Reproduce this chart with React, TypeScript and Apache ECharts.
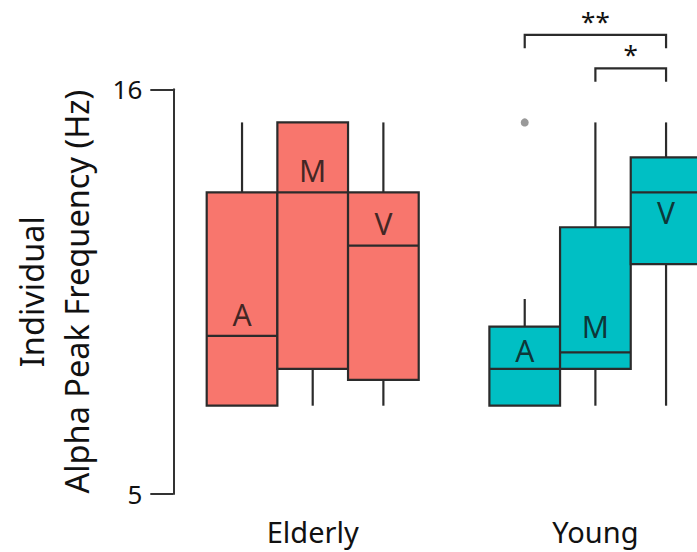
import React, { useEffect, useRef } from 'react';
import * as echarts from 'echarts';

// ---- data ----
const categories = ['Elderly-A', 'Elderly-M', 'Elderly-V', 'gap', 'Young-A', 'Young-M', 'Young-V'];
const groupLabels = ['', 'Elderly', '', '', '', 'Young', ''];
const conditions = ['A', 'M', 'V'];
// [min, Q1, median, Q3, max]
const elderlyStats = [
  [7.4, 7.4, 9.3, 13.2, 15.1],
  [7.4, 8.4, 13.2, 15.1, 15.1],
  [7.4, 8.1, 11.75, 13.2, 15.1],
];
const youngStats = [
  [7.4, 7.4, 8.4, 9.55, 10.3],
  [7.4, 8.4, 8.85, 12.25, 15.1],
  [7.4, 11.25, 13.2, 14.15, 15.1],
];
const youngOutliers = [[0, 15.1]];
const elderlyLetterY = [9.87, 13.78, 12.34];
const youngLetterY = [8.89, 9.54, 12.66];
// significance brackets within Young group: [fromIdx, toIdx, level]
const bracketFrom = [0, 1];
const bracketTo = [2, 2];
const bracketLevel = [17.48, 16.57];
const bracketText = ['**', '*'];
const yTicks = [5, 16];
const yMin = 5;
const yMax = 16;

const ELDERLY_COLOR = '#F8766D';
const YOUNG_COLOR = '#00BFC4';
const INK = '#2b2b2b';
const FONT = 'Noto Sans';

const renderBox = (color: string) => (params: any, api: any) => {
  const c = api.value(0);
  const [x, yLo] = api.coord([c, api.value(1)]);
  const yQ1 = api.coord([c, api.value(2)])[1];
  const yMed = api.coord([c, api.value(3)])[1];
  const yQ3 = api.coord([c, api.value(4)])[1];
  const yHi = api.coord([c, api.value(5)])[1];
  const w = api.size([1, 0])[0];
  const stroke = { stroke: INK, lineWidth: 2.2 };
  return {
    type: 'group',
    children: [
      { type: 'line', shape: { x1: x, y1: yHi, x2: x, y2: yQ3 }, style: stroke },
      { type: 'line', shape: { x1: x, y1: yQ1, x2: x, y2: yLo }, style: stroke },
      { type: 'rect', shape: { x: x - w / 2, y: yQ3, width: w, height: yQ1 - yQ3 }, style: { fill: color, ...stroke } },
      { type: 'line', shape: { x1: x - w / 2, y1: yMed, x2: x + w / 2, y2: yMed }, style: stroke },
    ],
  };
};

export default function App() {
  const ref = useRef<HTMLDivElement>(null);
  useEffect(() => {
    if (!ref.current) return;
    const chart = echarts.init(ref.current, null, { renderer: 'svg' });
    const elderlyData = elderlyStats.map((s, i) => [i, ...s]);
    const youngData = youngStats.map((s, i) => [4 + i, ...s]);
    const letterData = [
      ...elderlyLetterY.map((y, i) => ({ value: [i, y], name: conditions[i] })),
      ...youngLetterY.map((y, i) => ({ value: [4 + i, y], name: conditions[i] })),
    ];
    const bracketData = bracketFrom.map((f, i) => [4 + f, 4 + bracketTo[i], bracketLevel[i]]);
    chart.setOption({
      animation: false,
      backgroundColor: '#ffffff',
      textStyle: { fontFamily: FONT },
      grid: { left: 206.7, top: 89.3, width: 494.7, height: 404.7, outerBoundsMode: 'none', containLabel: false },
      xAxis: {
        type: 'category',
        data: categories,
        boundaryGap: true,
        axisLine: { show: false },
        axisTick: { show: false },
        axisLabel: {
          interval: 0,
          margin: 23,
          fontSize: 29,
          fontFamily: FONT,
          color: '#111',
          formatter: (_v: string, idx: number) => groupLabels[idx],
        },
        splitLine: { show: false },
      },
      yAxis: {
        type: 'value',
        min: yMin,
        max: yMax,
        offset: 33.4,
        axisLine: { show: true, lineStyle: { color: '#333', width: 2 } },
        axisTick: { show: true, customValues: yTicks, length: 23, inside: false, lineStyle: { color: '#333', width: 2 } },
        axisLabel: { customValues: yTicks, margin: 31, fontSize: 26, fontFamily: FONT, color: '#111' },
        splitLine: { show: false },
        name: 'Individual\nAlpha Peak Frequency (Hz)',
        nameLocation: 'middle',
        nameRotate: 90,
        nameGap: 74,
        nameTextStyle: { fontSize: 32.5, fontFamily: FONT, color: '#111', lineHeight: 45, align: 'center' },
      },
      series: [
        {
          type: 'custom',
          name: 'Elderly',
          clip: false,
          renderItem: renderBox(ELDERLY_COLOR),
          encode: { x: 0, y: [1, 2, 3, 4, 5] },
          data: elderlyData,
          z: 2,
        },
        {
          type: 'custom',
          name: 'Young',
          clip: false,
          renderItem: renderBox(YOUNG_COLOR),
          encode: { x: 0, y: [1, 2, 3, 4, 5] },
          data: youngData,
          z: 2,
        },
        {
          type: 'scatter',
          name: 'Young outliers',
          data: youngOutliers.map(([i, v]) => [4 + i, v]),
          symbolSize: 8,
          itemStyle: { color: '#808080' },
          z: 3,
        },
        {
          type: 'scatter',
          name: 'Conditions',
          data: letterData,
          symbolSize: 1,
          itemStyle: { color: 'rgba(0,0,0,0)' },
          label: {
            show: true,
            position: 'inside',
            formatter: '{b}',
            fontSize: 30,
            fontFamily: FONT,
            color: '#111',
          },
          z: 4,
        },
        {
          type: 'custom',
          name: 'Significance',
          clip: false,
          encode: { x: [0, 1], y: 2 },
          data: bracketData,
          renderItem: (params: any, api: any) => {
            const p1 = api.coord([api.value(0), api.value(2)]);
            const p2 = api.coord([api.value(1), api.value(2)]);
            const drop = 13.5;
            return {
              type: 'group',
              children: [
                {
                  type: 'polyline',
                  shape: { points: [[p1[0], p1[1] + drop], [p1[0], p1[1]], [p2[0], p1[1]], [p2[0], p1[1] + drop]] },
                  style: { stroke: INK, lineWidth: 2.2, fill: 'none' },
                },
                {
                  type: 'text',
                  x: (p1[0] + p2[0]) / 2,
                  y: p1[1] - 1,
                  style: {
                    text: bracketText[params.dataIndex],
                    fontSize: 26,
                    fontFamily: FONT,
                    fill: '#111',
                    align: 'center',
                    verticalAlign: 'bottom',
                  },
                },
              ],
            };
          },
          z: 5,
        },
      ],
    });
    return () => chart.dispose();
  }, []);
  return <div ref={ref} style={{ position: 'fixed', left: 0, top: 0, width: 697, height: 552 }} />;
}
